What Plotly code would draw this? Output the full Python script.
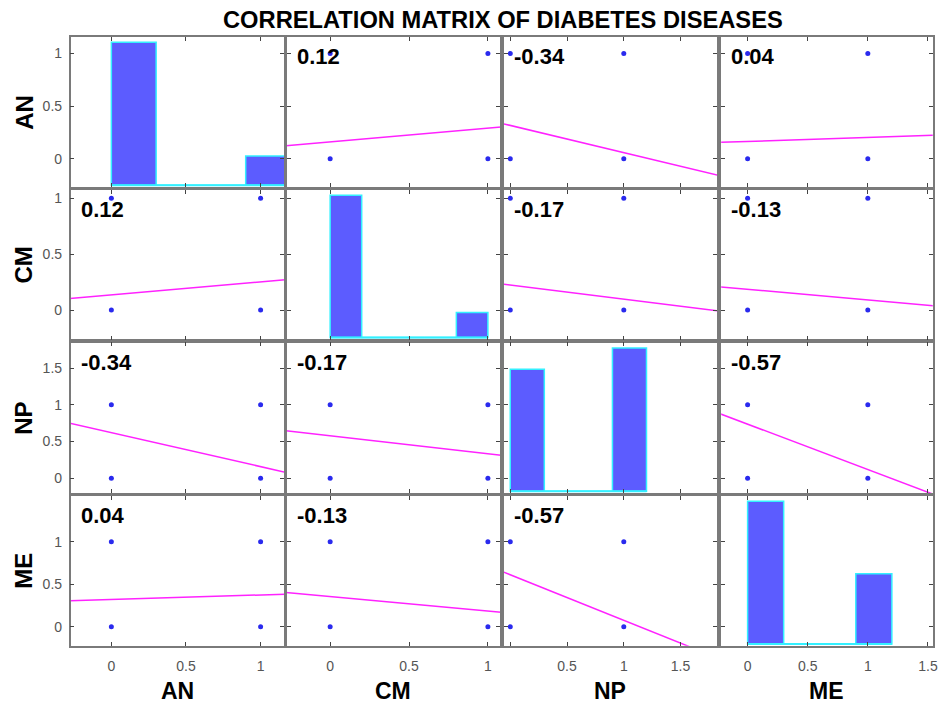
import plotly.graph_objects as go

# ---------------- data ----------------
variables = ["AN", "CM", "NP", "ME"]
levels = [0, 1]  # binary indicators

corr = [
    [1.00, 0.12, -0.34, 0.04],
    [0.12, 1.00, -0.17, -0.13],
    [-0.34, -0.17, 1.00, -0.57],
    [0.04, -0.13, -0.57, 1.00],
]

# least-squares fit lines (row variable on y, column variable on x)
fit_intercept = [
    [None, 0.159, 0.316, 0.164],
    [0.136, None, 0.223, 0.185],
    [0.620, 0.578, None, 0.737],
    [0.321, 0.354, 0.612, None],
]
fit_slope = [
    [None, 0.132, -0.259, 0.0375],
    [0.115, None, -0.126, -0.095],
    [-0.461, -0.245, None, -0.618],
    [0.053, -0.171, -0.537, None],
]

hist_edges_AN = [0, 0.3, 0.6, 0.9, 1.2]
hist_counts_AN = [83, 0, 0, 17]
hist_edges_CM = [0, 0.2, 0.4, 0.6, 0.8, 1.0]
hist_counts_CM = [85, 0, 0, 0, 15]
hist_edges_NP = [0, 0.3, 0.6, 0.9, 1.2]
hist_counts_NP = [46, 0, 0, 54]
hist_edges_ME = [0, 0.3, 0.6, 0.9, 1.2]
hist_counts_ME = [67, 0, 0, 33]
hist_edges = [hist_edges_AN, hist_edges_CM, hist_edges_NP, hist_edges_ME]
hist_counts = [hist_counts_AN, hist_counts_CM, hist_counts_NP, hist_counts_ME]

x_ranges = [[-0.273, 1.158], [-0.275, 1.077], [-0.055, 1.82], [-0.22, 1.54]]
y_ranges = [[-0.269, 1.156], [-0.262, 1.074], [-0.2, 1.845], [-0.224, 1.54]]
x_tickvals = [[0, 0.5, 1], [0, 0.5, 1], [0, 0.5, 1, 1.5], [0, 0.5, 1, 1.5]]
x_ticktext = [["0", "0.5", "1"], ["0", "0.5", "1"], ["", "0.5", "1", "1.5"], ["0", "0.5", "1", "1.5"]]
y_tickvals = [[0, 0.5, 1], [0, 0.5, 1], [0, 0.5, 1, 1.5], [0, 0.5, 1]]
y_ticktext = [["0", "0.5", "1"], ["0", "0.5", "1"], ["0", "0.5", "1", "1.5"], ["0", "0.5", "1"]]

title_text = "CORRELATION MATRIX OF DIABETES DISEASES"

# ---------------- layout geometry ----------------
W, H = 945, 706
col_px = [(71, 285.7), (288.3, 502.7), (506.7, 720.7), (725, 937.7)]
row_px = [(37, 187), (190, 339.3), (342.7, 493), (496, 645.7)]

FONT = "Liberation Sans, Arial, Helvetica, sans-serif"
DOT = "#2a2aee"
LINE = "#ff22ff"
BAR = "#5c5cff"
EDGE = "#33f0ff"
BORDER = "#7a7a7a"
TICKFONT = "#555555"

fig = go.Figure()
layout = dict(
    width=W, height=H, autosize=False,
    margin=dict(l=0, r=0, t=0, b=0),
    paper_bgcolor="white", plot_bgcolor="white",
    showlegend=False,
    annotations=[],
)

n = len(variables)
for r in range(n):
    for c in range(n):
        k = r * n + c + 1
        xa = "xaxis" if k == 1 else f"xaxis{k}"
        ya = "yaxis" if k == 1 else f"yaxis{k}"
        xid = "x" if k == 1 else f"x{k}"
        yid = "y" if k == 1 else f"y{k}"
        layout[xa] = dict(
            domain=[col_px[c][0] / W, col_px[c][1] / W],
            range=x_ranges[c], anchor=yid,
            showgrid=False, zeroline=False,
            showline=True, linecolor=BORDER, linewidth=1.5, mirror="ticks",
            ticks="inside", ticklen=4, tickwidth=1, tickcolor="#444",
            tickvals=x_tickvals[c], ticktext=x_ticktext[c],
            showticklabels=(r == n - 1),
            tickfont=dict(family=FONT, size=14, color=TICKFONT),
            ticklabelstandoff=7,
        )
        layout[ya] = dict(
            domain=[1 - row_px[r][1] / H, 1 - row_px[r][0] / H],
            range=y_ranges[r], anchor=xid,
            showgrid=False, zeroline=False,
            showline=True, linecolor=BORDER, linewidth=1.5, mirror="ticks",
            ticks="inside", ticklen=4, tickwidth=1, tickcolor="#444",
            tickvals=y_tickvals[r], ticktext=y_ticktext[r],
            showticklabels=(c == 0),
            tickfont=dict(family=FONT, size=14, color=TICKFONT),
            ticklabelstandoff=4,
        )
        if r == c:
            # histogram: counts mapped onto the panel height (max count -> 1/1.05 of it)
            y0, y1 = y_ranges[r]
            span = y1 - y0
            mx = max(hist_counts[r]) * 1.05
            base = y0 + 0.012 * span
            edges = hist_edges[r]
            counts = hist_counts[r]
            centers = [(edges[i] + edges[i + 1]) / 2 for i in range(len(counts))]
            widths = [edges[i + 1] - edges[i] for i in range(len(counts))]
            heights = [cnt / mx * span for cnt in counts]
            fig.add_trace(go.Scatter(
                x=[edges[0], edges[-1]], y=[base, base], mode="lines",
                line=dict(color=EDGE, width=2), xaxis=xid, yaxis=yid,
                hoverinfo="skip",
            ))
            fig.add_trace(go.Bar(
                x=centers, y=heights, base=base, width=widths,
                customdata=counts,
                marker=dict(color=BAR, line=dict(color=EDGE, width=1.5)),
                xaxis=xid, yaxis=yid,
            ))
        else:
            b0 = fit_intercept[r][c]
            b1 = fit_slope[r][c]
            xs = [-1.0, 3.0]
            fig.add_trace(go.Scatter(
                x=xs, y=[b0 + b1 * v for v in xs], mode="lines",
                line=dict(color=LINE, width=1.5), xaxis=xid, yaxis=yid,
            ))
            px, py = [], []
            for yv in levels:
                for xv in levels:
                    px.append(xv)
                    py.append(yv)
            fig.add_trace(go.Scatter(
                x=px, y=py, mode="markers",
                marker=dict(color=DOT, size=5), xaxis=xid, yaxis=yid,
            ))
            layout["annotations"].append(dict(
                text=f"<b>{corr[r][c]:.2f}</b>",
                xref=f"{xid} domain", yref=f"{yid} domain",
                x=0, y=1, xanchor="left", yanchor="top",
                xshift=8, yshift=-5, showarrow=False,
                font=dict(family=FONT, size=22, color="black"),
            ))

# variable labels
for i, v in enumerate(variables):
    layout["annotations"].append(dict(
        text=f"<b>{v}</b>", xref="paper", yref="paper",
        x=(col_px[i][0] + col_px[i][1]) / 2 / W, y=1 - 690.5 / H,
        xanchor="center", yanchor="middle", showarrow=False,
        font=dict(family=FONT, size=23, color="black"),
    ))
    layout["annotations"].append(dict(
        text=f"<b>{v}</b>", xref="paper", yref="paper",
        x=24 / W, y=1 - (row_px[i][0] + row_px[i][1]) / 2 / H,
        xanchor="center", yanchor="middle", showarrow=False, textangle=-90,
        font=dict(family=FONT, size=24, color="black"),
    ))

layout["annotations"].append(dict(
    text=f"<b>{title_text}</b>", xref="paper", yref="paper",
    x=506 / W, y=1 - 20 / H, xanchor="center", yanchor="middle",
    showarrow=False, font=dict(family=FONT, size=23.7, color="black"),
))

fig.update_layout(**layout)
fig.write_html(
    "out.html",
    config={"displayModeBar": False},
    post_script="document.body.style.margin='0px';",
)
